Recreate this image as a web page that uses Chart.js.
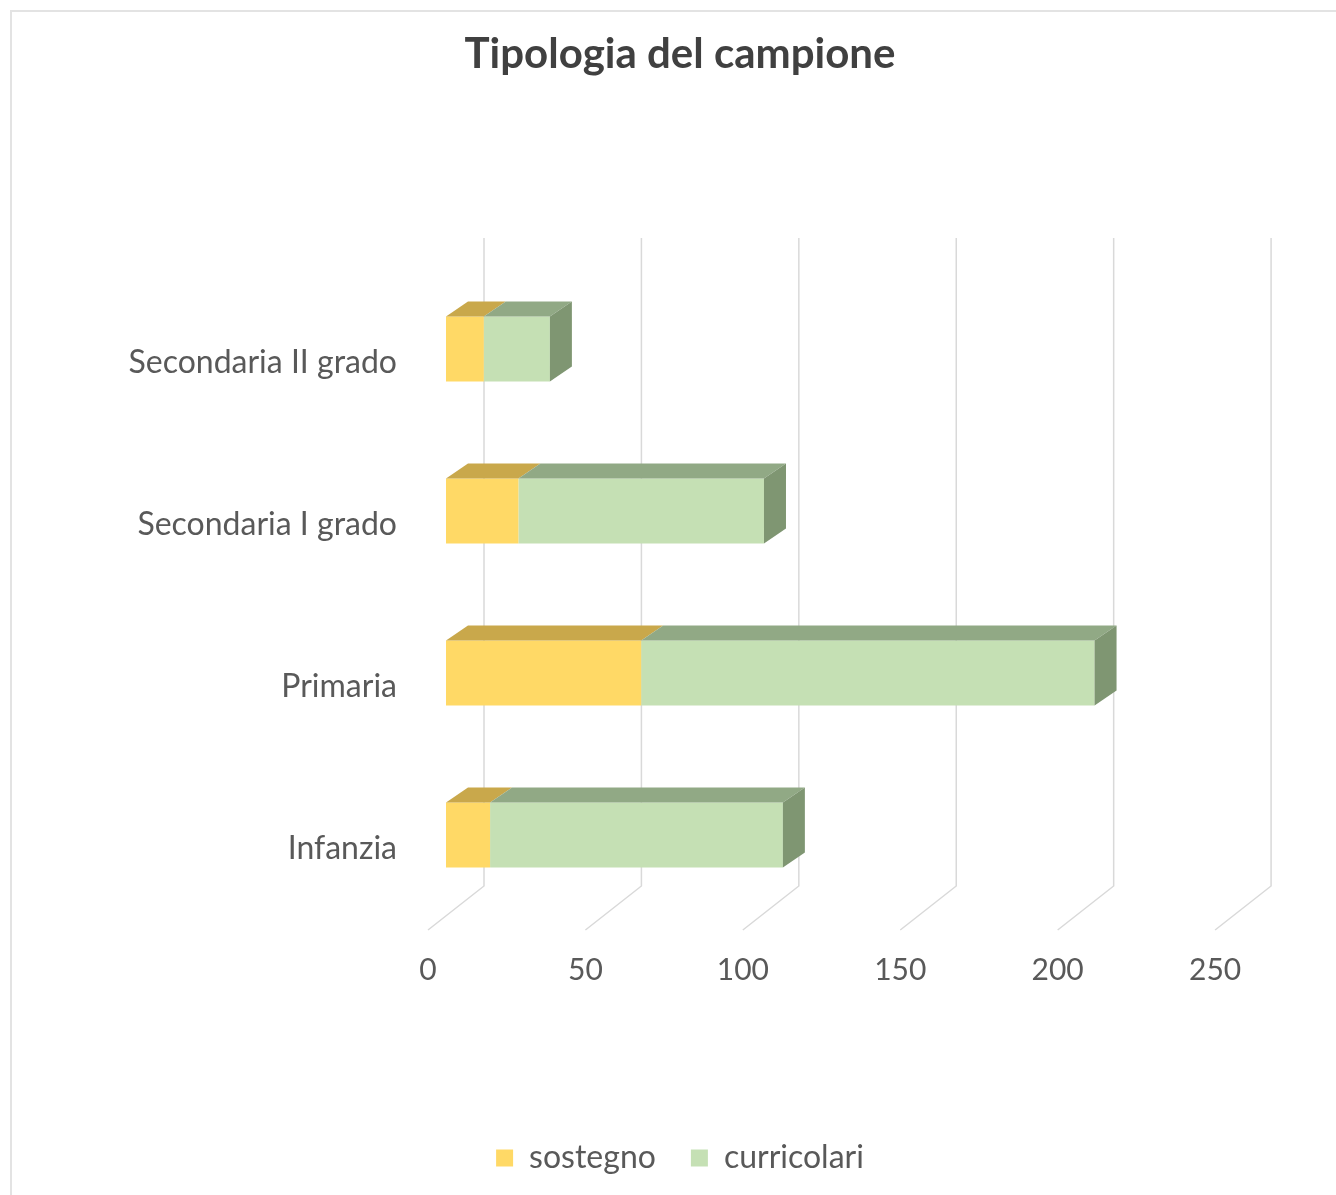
<!DOCTYPE html>
<html>
<head>
<meta charset="utf-8">
<script src="https://cdn.jsdelivr.net/npm/chart.js@4.4.0/dist/chart.umd.min.js"></script>
<style>
  html, body { margin: 0; padding: 0; background: #ffffff; overflow: hidden; width: 1336px; height: 1195px; }
  #frame { position: absolute; left: 10px; top: 10px; width: 1400px; height: 1300px; border: 2px solid #e3e3e3; box-sizing: border-box; }
  #c { position: absolute; left: 0; top: 0; }
</style>
</head>
<body>
<div id="frame"></div>
<canvas id="c" width="1348" height="1195"></canvas>
<script>
const titleText = 'Tipologia del campione';
const categories = ['Secondaria II grado', 'Secondaria I grado', 'Primaria', 'Infanzia'];
const sostegno = [12, 23, 62, 14];
const curricolari = [21, 78, 144, 93];
const seriesNames = ['sostegno', 'curricolari'];
const tickValues = [0, 50, 100, 150, 200, 250];

const FONT = 'Lato, "Open Sans", "DejaVu Sans", sans-serif';
const TXT = '#595959';
const colors = {
  front: ['#FFD966', '#C5E0B4'],
  top:   ['#C9A84B', '#91A985'],
  side:  ['#7F9672', '#7F9672']
};
const BAR_DX = 22, BAR_DY = -15;
const BACK_DX = 38, BACK_DY = -30;
const FLOOR_DX = -18, FLOOR_DY = 14;

const depthPlugin = {
  id: 'depth3d',
  beforeDatasetsDraw(chart) {
    const ctx = chart.ctx;
    const xs = chart.scales.x;
    const area = chart.chartArea;
    ctx.save();
    ctx.strokeStyle = '#D9D9D9';
    ctx.lineWidth = 1.5;
    tickValues.forEach(v => {
      const px = xs.getPixelForValue(v);
      ctx.beginPath();
      ctx.moveTo(px + BACK_DX, area.top + BACK_DY);
      ctx.lineTo(px + BACK_DX, area.bottom + BACK_DY);
      ctx.lineTo(px + FLOOR_DX, area.bottom + FLOOR_DY);
      ctx.stroke();
    });
    ctx.restore();
  },
  afterDatasetsDraw(chart) {
    const ctx = chart.ctx;
    ctx.save();
    const n = chart.data.datasets.length;
    for (let d = 0; d < n; d++) {
      const meta = chart.getDatasetMeta(d);
      meta.data.forEach((el, i) => {
        const p = el.getProps(['x', 'base', 'y', 'height'], true);
        const x0 = Math.min(p.x, p.base), x1 = Math.max(p.x, p.base);
        const top = p.y - p.height / 2, bottom = p.y + p.height / 2;
        ctx.fillStyle = colors.top[d];
        ctx.beginPath();
        ctx.moveTo(x0, top);
        ctx.lineTo(x1, top);
        ctx.lineTo(x1 + BAR_DX, top + BAR_DY);
        ctx.lineTo(x0 + BAR_DX, top + BAR_DY);
        ctx.closePath();
        ctx.fill();
        if (d === n - 1) {
          ctx.fillStyle = colors.side[d];
          ctx.beginPath();
          ctx.moveTo(x1, top);
          ctx.lineTo(x1 + BAR_DX, top + BAR_DY);
          ctx.lineTo(x1 + BAR_DX, bottom + BAR_DY);
          ctx.lineTo(x1, bottom);
          ctx.closePath();
          ctx.fill();
        }
      });
    }
    ctx.restore();
  }
};

new Chart(document.getElementById('c'), {
  type: 'bar',
  data: {
    labels: categories,
    datasets: [
      { label: seriesNames[0], data: sostegno, backgroundColor: colors.front[0], borderWidth: 0 },
      { label: seriesNames[1], data: curricolari, backgroundColor: colors.front[1], borderWidth: 0 }
    ]
  },
  options: {
    indexAxis: 'y',
    responsive: false,
    animation: false,
    devicePixelRatio: 1,
    layout: { padding: { left: 12, right: 0, top: 0, bottom: 11 } },
    datasets: { bar: { categoryPercentage: 0.4, barPercentage: 1.0 } },
    scales: {
      x: {
        stacked: true,
        min: 0,
        max: 286.5,
        afterBuildTicks: s => { s.ticks = tickValues.map(v => ({ value: v })); },
        afterFit: s => { s.height = 191; },
        grid: { display: false, drawTicks: false },
        border: { display: false },
        ticks: { padding: 36, labelOffset: -18, color: TXT, font: { family: FONT, size: 30 }, maxRotation: 0 }
      },
      y: {
        stacked: true,
        afterFit: s => { s.width = 434; },
        grid: { display: false, drawTicks: false },
        border: { display: false },
        ticks: { padding: 49, labelOffset: 14, color: TXT, font: { family: FONT, size: 32 } }
      }
    },
    plugins: {
      title: {
        display: true,
        text: titleText,
        color: '#404040',
        font: { family: FONT, size: 42, weight: 'bold', lineHeight: 1.2 },
        padding: { top: 29.5, bottom: 188.1 }
      },
      legend: {
        display: true,
        position: 'bottom',
        labels: { boxWidth: 17, boxHeight: 17, padding: 35, color: TXT, font: { family: FONT, size: 32 } }
      },
      tooltip: { enabled: false }
    }
  },
  plugins: [depthPlugin]
});
</script>
</body>
</html>
